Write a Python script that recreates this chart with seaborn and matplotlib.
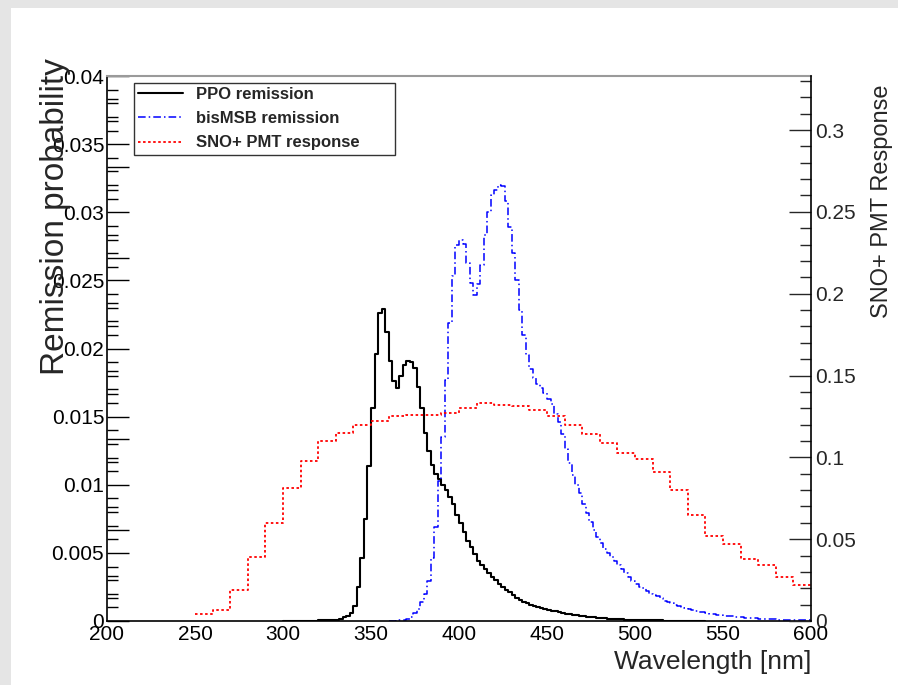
import numpy as np
import pandas as pd
import matplotlib
matplotlib.use("Agg")
import matplotlib.pyplot as plt
import matplotlib.ticker as mticker
from matplotlib.lines import Line2D
from matplotlib.patches import Rectangle
import seaborn as sns

# ── Data ──────────────────────────────────────────────────────────────────────
# PPO re-emission, 2 nm bins starting at 300 nm
ppo_start = 300
ppo_bin = 2
ppo_vals = [
    0.00003, 0.00003, 0.00003, 0.00003, 0.00003, 0.00003, 0.00003, 0.00003,
    0.00003, 0.00003, 0.00004, 0.00004, 0.00005, 0.00005,                      # 300-326
    0.00006, 0.00009, 0.00015, 0.00027, 0.00037, 0.00056, 0.0011, 0.0025,      # 328-342
    0.0046, 0.0075, 0.0114, 0.0156, 0.0196, 0.0226, 0.0229, 0.0212,            # 344-358
    0.0191, 0.0176, 0.0171, 0.0180, 0.0188, 0.0191, 0.0190, 0.0186,            # 360-374
    0.0172, 0.0156, 0.0138, 0.0125, 0.01145, 0.0108, 0.0104, 0.0100,           # 376-390
    0.0096, 0.0091, 0.0086, 0.0078, 0.0072, 0.0065, 0.0059, 0.0054,            # 392-406
    0.0049, 0.0044, 0.0041, 0.0038, 0.0035, 0.0032, 0.0030, 0.0027,            # 408-422
    0.0025, 0.0023, 0.0021, 0.0019, 0.0017, 0.00155, 0.0014, 0.0013,           # 424-438
    0.0012, 0.0011, 0.00102, 0.00095, 0.00088, 0.00082, 0.00076, 0.0007,       # 440-454
    0.00065, 0.0006, 0.00055, 0.0005, 0.00046, 0.00042, 0.00038, 0.00035,      # 456-470
    0.00032, 0.00029, 0.00026, 0.00024, 0.00022, 0.0002, 0.00018, 0.00016,     # 472-486
    0.00014, 0.00013, 0.00012, 0.00011, 0.0001, 0.00009, 0.00008, 0.00007,     # 488-502
    0.00006, 0.00006, 0.00005, 0.00005, 0.00004, 0.00004, 0.00003, 0.00003,    # 504-518
    0.00003, 0.00003, 0.00002, 0.00002, 0.00002, 0.00002, 0.00002, 0.00002,    # 520-534
    0.00002, 0.00002,                                                          # 536-538
]

# bisMSB re-emission, 2 nm bins starting at 360 nm
msb_start = 360
msb_bin = 2
msb_vals = [
    0.00002, 0.00003, 0.00004, 0.00005, 0.00008, 0.00012, 0.0003, 0.00056,     # 360-374
    0.0009, 0.0014, 0.0020, 0.0029, 0.0046, 0.0069, 0.0103, 0.0135,            # 376-390
    0.0177, 0.0219, 0.0253, 0.0276, 0.0280, 0.0277, 0.0263, 0.0248,            # 392-406
    0.0239, 0.0247, 0.0261, 0.0283, 0.0300, 0.0313, 0.0316, 0.0320,            # 408-422
    0.0319, 0.0308, 0.0289, 0.0270, 0.0250, 0.0228, 0.0210, 0.0195,            # 424-438
    0.0185, 0.0178, 0.0174, 0.0171, 0.0167, 0.0163, 0.0159, 0.0152,            # 440-454
    0.0146, 0.0137, 0.0126, 0.0116, 0.0107, 0.0100, 0.0094, 0.0086,            # 456-470
    0.0079, 0.0073, 0.0067, 0.0062, 0.0057, 0.0053, 0.0050, 0.0047,            # 472-486
    0.0044, 0.0041, 0.0038, 0.0035, 0.0032, 0.0029, 0.0027, 0.0025,            # 488-502
    0.0024, 0.0022, 0.0020, 0.0019, 0.0018, 0.0017, 0.0015, 0.0014,            # 504-518
    0.0013, 0.0012, 0.0011, 0.0010, 0.00095, 0.00088, 0.0008, 0.00073,         # 520-534
    0.00068, 0.00064, 0.00059, 0.00054, 0.00049, 0.00046, 0.00042, 0.00039,    # 536-550
    0.00037, 0.00034, 0.00032, 0.00029, 0.00027, 0.00024, 0.00022, 0.00021,    # 552-566
    0.0002, 0.00017, 0.00016, 0.00015, 0.00014, 0.00012, 0.00011, 0.0001,      # 568-582
    0.0001, 0.00009, 0.00008, 0.00008, 0.00007, 0.00006, 0.00006, 0.00005,     # 584-598
]

# SNO+ PMT response, 10 nm bins starting at 250 nm (right axis)
pmt_start = 250
pmt_bin = 10
pmt_vals = [
    0.004, 0.0067, 0.019, 0.039, 0.060, 0.081, 0.098, 0.110, 0.115, 0.120,     # 250-340
    0.122, 0.125, 0.126, 0.126, 0.127, 0.130, 0.133, 0.132, 0.1315, 0.129,     # 350-440
    0.1255, 0.120, 0.114, 0.1086, 0.1025, 0.0988, 0.0912, 0.080, 0.065, 0.052, # 450-540
    0.047, 0.038, 0.034, 0.0269, 0.0218,                                       # 550-590
]

series_labels = ["PPO remission", "bisMSB remission", "SNO+ PMT response"]
x_ticks = [200, 250, 300, 350, 400, 450, 500, 550, 600]
left_ticks = [0, 0.005, 0.01, 0.015, 0.02, 0.025, 0.03, 0.035, 0.04]
right_ticks = [0, 0.05, 0.1, 0.15, 0.2, 0.25, 0.3]

# ── Style ─────────────────────────────────────────────────────────────────────
sns.set_style("white")
plt.rcParams["font.family"] = ["Liberation Sans", "DejaVu Sans"]

BLACK = "#000000"
BLUE = "#0000ff"
RED = "#ff0000"
LS_BLUE = (0, (5, 2, 1, 2))
LS_RED = (0, (1.4, 1.4))


def step_hist(ax, start, width, vals, **kw):
    edges = start + width * np.arange(len(vals) + 1)
    df = pd.DataFrame({"wl": edges[:-1] + width / 2, "w": vals})
    sns.histplot(data=df, x="wl", weights="w", bins=edges.tolist(),
                 element="step", fill=False, ax=ax, **kw)


fig = plt.figure(figsize=(8.98, 6.85), dpi=100, facecolor="#e5e5e5")
fig.add_artist(Rectangle((11 / 898, 0), 1 - 11 / 898, 1 - 8 / 685,
                         transform=fig.transFigure, facecolor="white",
                         edgecolor="none", zorder=-5))

ax = fig.add_axes([107 / 898, 64 / 685, 704 / 898, 545 / 685])
ax.set_facecolor("none")
step_hist(ax, ppo_start, ppo_bin, ppo_vals, color=BLACK, linewidth=1.5)
step_hist(ax, msb_start, msb_bin, msb_vals, color=BLUE, linewidth=1.1,
          linestyle=LS_BLUE)
ax.set_xlim(200, 600)
ax.set_ylim(0, 0.04)
ax.set_xlabel("")
ax.set_ylabel("")

ax2 = ax.twinx()
step_hist(ax2, pmt_start, pmt_bin, pmt_vals, color=RED, linewidth=1.3,
          linestyle=LS_RED)
ax2.set_ylim(0, 0.333)
ax2.set_xlim(200, 600)
ax2.set_ylabel("")

# ── Ticks ─────────────────────────────────────────────────────────────────────
# the left axis was drawn twice in the original (8 and 6 primary divisions),
# so both tick sets show up; only the 0.005 set carries labels
ymax = left_ticks[-1]
major_a = np.linspace(0, ymax, 9)
major_b = np.linspace(0, ymax, 7)
minor_a = np.linspace(0, ymax, 41)
minor_b = np.linspace(0, ymax, 25)
y_major = np.unique(np.round(np.concatenate([major_a, major_b]), 7))
y_minor = np.unique(np.round(np.concatenate([minor_a, minor_b]), 7))
y_minor = [v for v in y_minor if not np.any(np.isclose(v, y_major))]


def left_fmt(v, p):
    if np.any(np.isclose(v, left_ticks, atol=1e-7)):
        return f"{v:g}"
    return ""


ax.set_xticks(x_ticks)
ax.xaxis.set_minor_locator(mticker.MultipleLocator(10))
ax.yaxis.set_major_locator(mticker.FixedLocator(y_major))
ax.yaxis.set_minor_locator(mticker.FixedLocator(y_minor))
ax.yaxis.set_major_formatter(mticker.FuncFormatter(left_fmt))
ax.tick_params(axis="both", which="major", direction="in", length=16,
               width=1, labelsize=15, colors="black", pad=3)
ax.tick_params(axis="both", which="minor", direction="in", length=8,
               width=1, colors="black")
ax.tick_params(axis="x", top=False, which="both")
ax.tick_params(axis="y", right=False, which="both", pad=2)

ax2.set_yticks(right_ticks)
ax2.yaxis.set_major_formatter(mticker.FuncFormatter(lambda v, p: f"{v:g}"))
ax2.yaxis.set_minor_locator(mticker.MultipleLocator(0.01))
ax2.tick_params(axis="y", which="major", direction="in", length=16,
                width=1, labelsize=15, pad=3)
ax2.tick_params(axis="y", which="minor", direction="in", length=8, width=1)

for sp in ["left", "bottom"]:
    ax.spines[sp].set_color("black")
    ax.spines[sp].set_linewidth(1.2)
ax.spines["top"].set_color("#9a9a9a")
ax.spines["top"].set_linewidth(1.5)
ax.spines["right"].set_visible(False)
for sp in ["left", "bottom", "top"]:
    ax2.spines[sp].set_visible(False)
ax2.spines["right"].set_color("black")
ax2.spines["right"].set_linewidth(1.2)

# axis titles in ROOT placement
fig.text(56 / 898, 1 - 58 / 685, "Remission probability", rotation=90,
         ha="center", va="top", fontsize=24)
fig.text(811 / 898, 1 - 650 / 685, "Wavelength [nm]", ha="right", va="top",
         fontsize=19)
fig.text(882 / 898, 1 - 84 / 685, "SNO+ PMT Response", rotation=90,
         ha="center", va="top", fontsize=17)

handles = [
    Line2D([], [], color=BLACK, linewidth=1.5),
    Line2D([], [], color=BLUE, linewidth=1.1, linestyle=LS_BLUE),
    Line2D([], [], color=RED, linewidth=1.3, linestyle=LS_RED),
]
leg = ax2.legend(handles, series_labels, loc="upper left",
                 bbox_to_anchor=(134 / 898, 1 - 83 / 685, 261 / 898, 0),
                 bbox_transform=fig.transFigure, mode="expand",
                 prop={"weight": "bold", "size": 12}, frameon=True,
                 fancybox=False, handlelength=2.7, handletextpad=0.8,
                 borderaxespad=0, labelspacing=0.55, borderpad=0.25)
leg.get_frame().set_edgecolor("black")
leg.get_frame().set_linewidth(1.0)

fig.savefig("out.png", dpi=100, facecolor=fig.get_facecolor())
